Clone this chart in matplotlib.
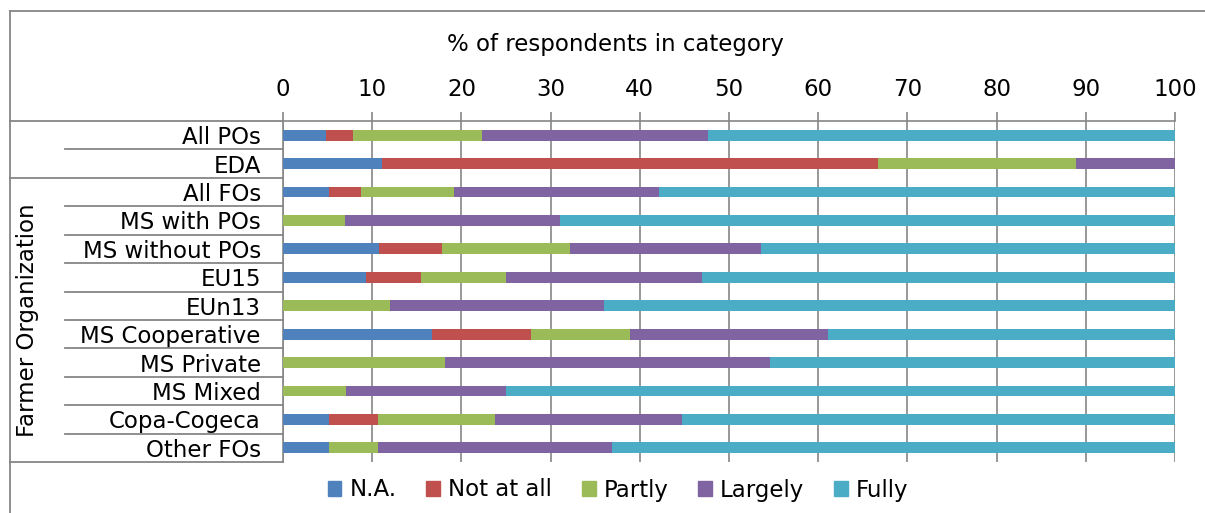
import matplotlib
matplotlib.use('Agg')
import matplotlib.pyplot as plt
from matplotlib.lines import Line2D
from matplotlib.patches import Rectangle

categories = ["All POs", "EDA", "All FOs", "MS with POs", "MS without POs", "EU15",
              "EUn13", "MS Cooperative", "MS Private", "MS Mixed", "Copa-Cogeca", "Other FOs"]
na         = [4.8, 11.1, 5.2, 0.0, 10.8, 9.3, 0.0, 16.7, 0.0, 0.0, 5.2, 5.2]
not_at_all = [3.1, 55.6, 3.5, 0.0, 7.0, 6.2, 0.0, 11.1, 0.0, 0.0, 5.4, 0.0]
partly     = [14.4, 22.2, 10.5, 6.9, 14.4, 9.5, 12.0, 11.1, 18.2, 7.1, 13.2, 5.4]
largely    = [25.3, 11.1, 22.9, 24.1, 21.4, 22.0, 24.0, 22.2, 36.4, 17.9, 20.9, 26.3]
fully      = [52.4, 0.0, 57.9, 69.0, 46.4, 53.0, 64.0, 38.9, 45.4, 75.0, 55.3, 63.1]
series_names = ["N.A.", "Not at all", "Partly", "Largely", "Fully"]
series_colors = ["#4F81BD", "#C0504D", "#9BBB59", "#8064A2", "#4BACC6"]
xticks = [0, 10, 20, 30, 40, 50, 60, 70, 80, 90, 100]
title = "% of respondents in category"
group_label = "Farmer Organization"

W, H = 1205, 513
FS = 16.5
GRAY = "#868686"
plt.rcParams['font.family'] = ['DejaVu Sans']

fig = plt.figure(figsize=(W / 100, H / 100), dpi=100)
def fx(x): return x / W
def fy(y): return 1 - y / H

left, right, top, bottom = 283, 1175, 121, 462
ax = fig.add_axes([fx(left), fy(bottom), (right - left) / W, (bottom - top) / H])

ypos = list(range(len(categories)))
cum = [0.0] * len(categories)
for vals, name, col in zip([na, not_at_all, partly, largely, fully], series_names, series_colors):
    ax.barh(ypos, vals, left=cum, height=0.38, color=col, label=name, zorder=3)
    cum = [c + v for c, v in zip(cum, vals)]

ax.set_xlim(0, 100)
ax.set_ylim(len(categories) - 0.5, -0.5)
ax.xaxis.tick_top()
ax.set_xticks(xticks)
ax.set_xticklabels([str(t) for t in xticks], fontsize=FS)
ax.tick_params(axis='x', length=6.5, width=1.2, color=GRAY, pad=8)
ax.set_yticks(ypos)
ax.set_yticklabels(categories, fontsize=FS)
ax.tick_params(axis='y', length=0, pad=16)
ax.grid(axis='x', color=GRAY, lw=1.2, zorder=0)
ax.set_axisbelow(True)
for s in ['right', 'bottom']:
    ax.spines[s].set_visible(False)
for s in ['top', 'left']:
    ax.spines[s].set_color(GRAY)
    ax.spines[s].set_linewidth(1.2)

def hline(x0, x1, y):
    fig.add_artist(Line2D([fx(x0), fx(x1)], [fy(y), fy(y)], transform=fig.transFigure,
                          color=GRAY, lw=1.3))

def vline(x, y0, y1):
    fig.add_artist(Line2D([fx(x), fx(x)], [fy(y0), fy(y1)], transform=fig.transFigure,
                          color=GRAY, lw=1.3))

# chart frame
hline(10, W, 11)
vline(10, 11, H)
# category label area lines
row_h = (bottom - top) / len(categories)
hline(10, left, top)
hline(10, left, bottom)
for i in range(1, len(categories)):
    y = top + i * row_h
    if i == 2:
        hline(10, left, y)
    else:
        hline(65, left, y)

fig.text(fx(28), fy(320), group_label, rotation=90, ha='center', va='center', fontsize=FS)
fig.text(fx(615), fy(45), title, ha='center', va='center', fontsize=FS)

handles = [Rectangle((0, 0), 1, 1, color=c) for c in series_colors]
fig.legend(handles, series_names, loc='center', bbox_to_anchor=(fx(618), fy(490)), ncol=5,
           frameon=False, fontsize=FS, handlelength=0.6, handleheight=0.6,
           handletextpad=0.35, columnspacing=1.3, borderaxespad=0)

fig.savefig("out.png", dpi=100)
